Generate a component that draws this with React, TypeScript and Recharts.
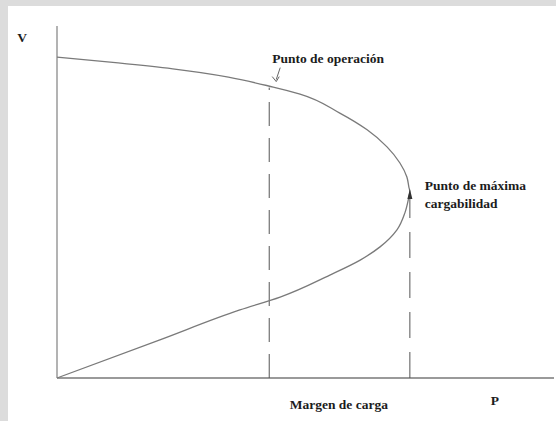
import React from "react";
import { LineChart, Line, XAxis, YAxis, ReferenceLine, ReferenceDot } from "recharts";

// P-V nose curve, traced from the top branch down through the nose and back to the origin
const curveP = [
  0, 1.23, 2.33, 4.35, 4.89, 5.69, 6.24, 6.64, 6.9, 7.04, 7.08, 7.1,
  7.08, 7.0, 6.84, 6.5, 6.1, 5.49, 4.49, 3.68, 2.07, 0,
];
const curveV = [
  1.094, 1.074, 1.054, 0.992, 0.968, 0.903, 0.846, 0.788, 0.733, 0.685, 0.651, 0.634,
  0.617, 0.563, 0.505, 0.447, 0.402, 0.351, 0.276, 0.232, 0.13, 0,
];

// operating point and point of maximum loadability
const operatingP = 4.27;
const operatingV = 0.99;
const noseP = 7.1;
const noseV = 0.634;

const axisLabels = { v: "V", p: "P", margin: "Margen de carga" };
const pointLabels = { operating: "Punto de operación", noseTop: "Punto de máxima", noseBottom: "cargabilidad" };

const data = curveP.map((p, i) => ({ p, v: curveV[i] }));

const textStyle: React.CSSProperties = {
  fontFamily: '"Times New Roman", "Liberation Serif", "DejaVu Serif", Times, serif',
  fontWeight: 700,
  fontSize: 13.5,
  fill: "#1c1c1c",
};

const curveColor = "#7a7a7a";
const axisColor = "#9a9a9a";

function OperatingMarker({ cx, cy }: { cx?: number; cy?: number }) {
  if (cx == null || cy == null) return null;
  return (
    <g>
      <text x={cx + 3} y={cy - 25} style={textStyle}>
        {pointLabels.operating}
      </text>
      <line x1={cx + 11} y1={cy - 20} x2={cx + 7} y2={cy - 8} stroke="#666" strokeWidth={1} />
      <path d={`M ${cx + 3} ${cy - 11} L ${cx + 7} ${cy - 6} L ${cx + 10} ${cy - 11}`} fill="none" stroke="#666" strokeWidth={1} />
    </g>
  );
}

function NoseMarker({ cx, cy }: { cx?: number; cy?: number }) {
  if (cx == null || cy == null) return null;
  return (
    <g>
      <path d={`M ${cx} ${cy - 3} L ${cx - 2.5} ${cy + 7} L ${cx + 2.5} ${cy + 7} Z`} fill="#333" />
      <text x={cx + 15} y={cy - 2} style={textStyle}>
        {pointLabels.noseTop}
      </text>
      <text x={cx + 15} y={cy + 16} style={textStyle}>
        {pointLabels.noseBottom}
      </text>
    </g>
  );
}

function TextMarker({ cx, cy, text, dx, dy }: { cx?: number; cy?: number; text: string; dx: number; dy: number }) {
  if (cx == null || cy == null) return null;
  return (
    <text x={cx + dx} y={cy + dy} textAnchor="middle" style={textStyle}>
      {text}
    </text>
  );
}

export default function App() {
  return (
    <div style={{ position: "absolute", left: 0, top: 0, width: 556, height: 421, background: "#dcdcdc" }}>
      <div style={{ position: "absolute", left: 8, top: 6, width: 548, height: 415, background: "#ffffff" }}>
        <LineChart width={548} height={415} data={data} margin={{ top: 20, right: 2, bottom: 43, left: 49 }}>
          <XAxis type="number" dataKey="p" domain={[0, 10]} hide />
          <YAxis type="number" domain={[0, 1.2]} hide />
          {/* axes drawn as reference lines so no tick space is reserved */}
          <ReferenceLine x={0} stroke={axisColor} strokeWidth={1.5} />
          <ReferenceLine y={0} stroke={axisColor} strokeWidth={2} />
          <ReferenceLine
            segment={[{ x: operatingP, y: 0 }, { x: operatingP, y: operatingV }]}
            stroke="#555"
            strokeWidth={1}
            strokeDasharray="24 12"
          />
          <ReferenceLine
            segment={[{ x: noseP, y: 0 }, { x: noseP, y: noseV - 0.02 }]}
            stroke="#555"
            strokeWidth={1}
            strokeDasharray="26 14"
          />
          <Line
            type="monotoneY"
            dataKey="v"
            stroke={curveColor}
            strokeWidth={1.3}
            dot={false}
            activeDot={false}
            isAnimationActive={false}
          />
          <ReferenceDot x={operatingP} y={operatingV} r={0} shape={(props: any) => <OperatingMarker {...props} />} />
          <ReferenceDot x={noseP} y={noseV} r={0} shape={(props: any) => <NoseMarker {...props} />} />
          <ReferenceDot
            x={5.67}
            y={0}
            r={0}
            shape={(props: any) => <TextMarker {...props} text={axisLabels.margin} dx={0} dy={31} />}
          />
          <ReferenceDot
            x={8.81}
            y={0}
            r={0}
            shape={(props: any) => <TextMarker {...props} text={axisLabels.p} dx={0} dy={27} />}
          />
          <ReferenceDot
            x={0}
            y={1.2}
            r={0}
            shape={(props: any) => <TextMarker {...props} text={axisLabels.v} dx={-35} dy={16} />}
          />
        </LineChart>
      </div>
    </div>
  );
}
